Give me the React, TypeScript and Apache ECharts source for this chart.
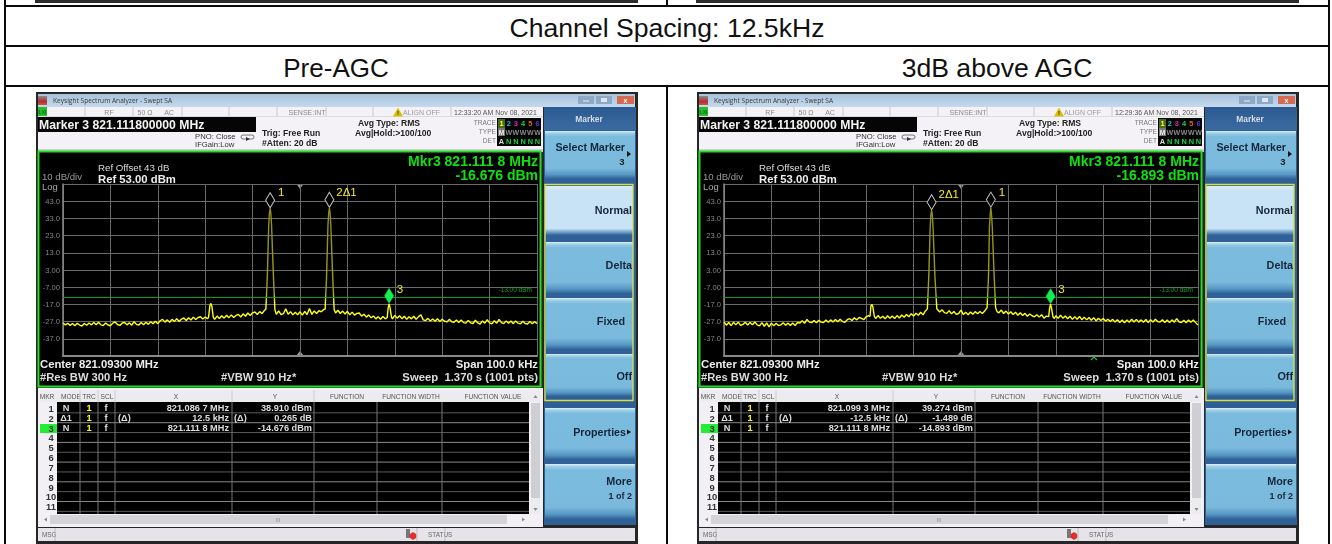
import React, { useEffect, useRef } from "react";
import * as echarts from "echarts";

// ---------- data ----------
const yTickLabels = ["", "-37.0", "-27.0", "-17.0", "-7.00", "3.00", "13.0", "23.0", "33.0", "43.0", ""];
const bottomDbm = -47;
const displayLineDbm = -13;

const preAgcTrace: [number, number][] = [
[0,-27.8],[0.5,-28.9],[1,-28],[1.5,-29.2],[2,-28.1],[2.5,-29.4],[3,-28],[3.5,-29],[4,-29.6],[4.5,-28.1],[5,-29.1],[5.5,-27.8],[6,-28.9],[6.5,-27.5],[7,-28.8],[7.5,-27.4],[8,-28.9],[8.5,-29.3],[9,-27.8],[9.5,-29],
[10,-29.4],[10.5,-27.9],[11,-27.2],[11.5,-28.7],[12,-29.2],[12.5,-27.8],[13,-27.5],[13.5,-28.9],[14,-27.7],[14.5,-29.1],[15,-27.1],[15.5,-28.6],[16,-29],[16.5,-27.5],[17,-28.8],[17.5,-27.4],[18,-28.6],[18.5,-27.1],[19,-28.3],[19.5,-26.8],
[20,-28.2],[20.5,-26.5],[21,-25.7],[21.5,-27.3],[22,-26],[22.5,-27.4],[23,-25.7],[23.5,-27],[24,-25.3],[24.5,-26.9],[25,-25.5],[25.5,-24.9],[26,-26.4],[26.5,-24.8],[27,-26.1],[27.5,-24.4],[28,-25.8],[28.5,-24.6],[29,-24.2],[29.5,-25.5],[30,-24.3],[30.5,-25.3],
[30.7,-24.5],[31,-17.6],[31.2,-16.4],[31.4,-18],[31.7,-24.4],[32,-25.7],[32.5,-23.8],[33,-25.2],[33.5,-23.6],[34,-25],[34.5,-23.3],[35,-24.7],[35.5,-23.1],[36,-24.6],[36.5,-23.4],[37,-22.8],[37.5,-24.3],[38,-22.5],[38.5,-23.9],[39,-22],[39.5,-23.4],[40,-21.9],[40.5,-21.4],[41,-22.9],[41.5,-21.2],[42,-22.3],[42.5,-20.5],
[42.8,-19.7],[43.1,-1],[43.4,29],[43.55,36],[43.7,38.9],[43.85,36],[44,29],[44.4,-1],[44.7,-20],[45,-22.8],[45.5,-20.8],[46,-23],[46.5,-22.4],[47,-19.6],[47.5,-22.7],[48,-21.2],[48.5,-23.1],[49,-21.6],[49.5,-23],[50,-21.3],[50.5,-23.2],[51,-21.1],[51.5,-22.9],[52,-19.4],[52.5,-22.8],[53,-20.8],[53.5,-22.3],[54,-20.7],[54.5,-21.3],[55,-19.9],
[55.3,-19.8],[55.6,-1],[55.9,29],[56.05,36],[56.2,39.17],[56.35,36],[56.5,29],[56.9,-1],[57.2,-20],[57.5,-22],[58,-20.4],[58.5,-22.3],[59,-20.9],[59.5,-22.6],[60,-21],[60.5,-23.1],[61,-21.5],[61.5,-23.2],[62,-22.2],[62.5,-22],[63,-23.8],[63.5,-22.7],[64,-24.4],[64.5,-23.1],[65,-24.8],[65.5,-23.7],[66,-25.4],[66.5,-24.2],[67,-25.6],[67.5,-24],[68,-25.4],
[68.4,-24.6],[68.6,-19],[68.8,-16.7],[69,-19],[69.3,-24.4],[69.5,-25.4],[70,-23.4],[70.5,-25],[71,-23.6],[71.5,-25.3],[72,-23.9],[72.5,-25.7],[73,-24.2],[73.5,-25.4],[74,-23.9],[74.5,-25.6],[75,-24.1],[75.5,-23],[76,-26],[76.5,-26.4],[77,-25.1],[77.5,-26.7],[78,-25.5],[78.5,-26.8],[79,-25.4],[79.5,-26.9],
[80,-25.6],[80.5,-26.8],[81,-27.2],[81.5,-25.7],[82,-27.1],[82.5,-27.4],[83,-26],[83.5,-27.5],[84,-26.1],[84.5,-27.6],[85,-27.9],[85.5,-26.3],[86,-27.7],[86.5,-28.1],[87,-26.2],[87.5,-27.8],[88,-28.4],[88.5,-26.6],[89,-27.9],[89.5,-25.9],
[90,-27.7],[90.5,-28.3],[91,-26.5],[91.5,-27.9],[92,-25.7],[92.5,-27.6],[93,-28.2],[93.5,-26.6],[94,-28],[94.5,-26.7],[95,-28.2],[95.5,-26.6],[96,-27.9],[96.5,-28.3],[97,-26.8],[97.5,-28.1],[98,-28.4],[98.5,-27],[99,-28.3],[99.5,-27.1],[100,-28.2],
];

const aboveAgcTrace: [number, number][] = [
[0,-27.2],[0.5,-29.1],[1,-27.5],[1.5,-29.3],[2,-27.4],[2.5,-28.9],[3,-27.3],[3.5,-29.2],[4,-28.6],[4.5,-27.4],[5,-29],[5.5,-27.5],[6,-28.8],[6.5,-27.2],[7,-28.9],[7.5,-29.5],[8,-27.6],[8.5,-29.7],[9,-27.8],[9.5,-30],
[10,-27.9],[10.5,-29.4],[11,-28],[11.5,-29.3],[12,-28.9],[12.5,-27.7],[13,-29.1],[13.5,-27.9],[14,-29.2],[14.5,-27.8],[15,-29.3],[15.5,-27.5],[16,-27.8],[16.5,-26.5],[17,-28],[17.5,-25.7],[18,-27.3],[18.5,-27.6],[19,-26.3],[19.5,-27.7],
[20,-26.2],[20.5,-27.3],[21,-27.6],[21.5,-26.1],[22,-27.4],[22.5,-26],[23,-27.2],[23.5,-25.8],[24,-27.1],[24.5,-25.7],[25,-27],[25.5,-27.4],[26,-25.9],[26.5,-25.3],[27,-26.4],[27.5,-24.8],[28,-26],[28.5,-24.6],[29,-25.1],[29.5,-25.8],[30,-24.2],[30.5,-23.5],
[30.8,-24],[31,-17.9],[31.2,-16.9],[31.4,-18.3],[31.7,-23.8],[32,-25.2],[32.5,-23.5],[33,-25.1],[33.5,-23.9],[34,-25.4],[34.5,-23.6],[35,-25.1],[35.5,-23.8],[36,-25.2],[36.5,-23.5],[37,-24.9],[37.5,-23.2],[38,-24.5],[38.5,-22.9],[39,-24.2],[39.5,-22.4],[40,-23.7],[40.5,-22.1],[41,-23.3],[41.5,-21.6],[42,-23.1],[42.5,-20.8],
[42.9,-19.6],[43.2,-1],[43.5,28],[43.65,35],[43.8,37.78],[43.95,35],[44.1,28],[44.5,-1],[44.9,-19.5],[45,-19.6],[45.5,-21.4],[46,-20.1],[46.5,-21.8],[47,-22.2],[47.5,-20.6],[48,-22.5],[48.5,-21.1],[49,-22.8],[49.5,-22.3],[50,-20.3],[50.5,-22.9],[51,-21.6],[51.5,-23],[52,-21.4],[52.5,-22.7],[53,-21.2],[53.5,-22.4],[54,-21.1],[54.5,-22.3],[55,-20.9],
[55.5,-18.9],[55.8,-1],[56,28],[56.15,35],[56.3,39.27],[56.45,35],[56.6,28],[57,-1],[57.3,-19],[57.6,-21.2],[58,-21.9],[58.5,-20.3],[59,-22.3],[59.5,-20.9],[60,-22.6],[60.5,-21.3],[61,-22.9],[61.5,-21.6],[62,-23.3],[62.5,-21.9],[63,-23.4],[63.5,-22.2],[64,-23.9],[64.5,-22.6],[65,-23.6],[65.5,-24.2],[66,-23],[66.5,-24.4],[67,-23],[67.5,-25],[68,-23.8],
[68.5,-24.1],[68.7,-19],[68.9,-16.9],[69.1,-19.2],[69.4,-24.2],[69.7,-25.2],[70,-23.6],[70.5,-25.1],[71,-23.2],[71.5,-25],[72,-23.7],[72.5,-25.3],[73,-23.9],[73.5,-25.7],[74,-24.1],[74.5,-25.6],[75,-24],[75.5,-25.9],[76,-24.4],[76.5,-26],[77,-24.6],[77.5,-26.2],[78,-24.7],[78.5,-26.5],[79,-25],[79.5,-26.4],
[80,-25.2],[80.5,-26.7],[81,-25.6],[81.5,-27],[82,-25.7],[82.5,-27.3],[83,-25.9],[83.5,-27.5],[84,-26.1],[84.5,-27.7],[85,-26],[85.5,-27.4],[86,-25.6],[86.5,-27.2],[87,-25.7],[87.5,-27.3],[88,-26],[88.5,-27.4],[89,-25.8],[89.5,-27.6],
[90,-25.9],[90.5,-27.3],[91,-25.6],[91.5,-27],[92,-27.3],[92.5,-25.9],[93,-27.5],[93.5,-26.1],[94,-27.6],[94.5,-26],[95,-27.3],[95.5,-25.3],[96,-27.1],[96.5,-27.6],[97,-26.2],[97.5,-27.7],[98,-26.1],[98.5,-27.4],[99,-26],[99.5,-27.6],[100,-29],
];

const preAgcMarkers = [
  { name: "1", khz: 43.7, dbm: 38.91, active: false },
  { name: "2Δ1", khz: 56.2, dbm: 39.175, active: false },
  { name: "3", khz: 68.8, dbm: -16.676, active: true },
];
const aboveAgcMarkers = [
  { name: "2Δ1", khz: 43.8, dbm: 37.785, active: false },
  { name: "1", khz: 56.3, dbm: 39.274, active: false },
  { name: "3", khz: 68.9, dbm: -16.893, active: true },
];

const preAgcRows = [
  ["N", "1", "f", "", "821.086 7 MHz", "", "38.910 dBm"],
  ["Δ1", "1", "f", "(Δ)", "12.5 kHz", "(Δ)", "0.265 dB"],
  ["N", "1", "f", "", "821.111 8 MHz", "", "-14.676 dBm"],
];
const aboveAgcRows = [
  ["N", "1", "f", "", "821.099 3 MHz", "", "39.274 dBm"],
  ["Δ1", "1", "f", "(Δ)", "-12.5 kHz", "(Δ)", "-1.489 dB"],
  ["N", "1", "f", "", "821.111 8 MHz", "", "-14.893 dBm"],
];
const markerNumbers = ["1", "2", "3", "4", "5", "6", "7", "8", "9", "10", "11"];
const tableHeads = [
  ["MKR", 47], ["MODE", 71], ["TRC", 89], ["SCL", 107], ["X", 176], ["Y", 275],
  ["FUNCTION", 347], ["FUNCTION WIDTH", 411], ["FUNCTION VALUE", 493],
] as [string, number][];
const softKeyLabels = ["Delta", "Fixed", "Off"];
const traceDigits = [["1", "#ffff20"], ["2", "#10c8c8"], ["3", "#e020c0"], ["4", "#20d040"], ["5", "#e06020"], ["6", "#6030e0"]];

const SANS = "'Liberation Sans', Arial, sans-serif";

// ---------- one analyzer screenshot, drawn behind the chart ----------
function paneChrome(dx: number, time: string, mkrDbm: string, rows: string[][]) {
  const els: any[] = [];
  const rect = (x: number, y: number, w: number, h: number, fill: any, extra: any = {}) =>
    els.push({ type: "rect", z: -1, shape: { x: x + dx, y, width: w, height: h }, style: { fill, ...extra }, silent: true });
  const line = (x1: number, y1: number, x2: number, y2: number, stroke: string, lineWidth = 1) =>
    els.push({ type: "line", z: -1, shape: { x1: x1 + dx, y1, x2: x2 + dx, y2 }, style: { stroke, lineWidth }, silent: true });
  const text = (x: number, y: number, t: string, size: number, fill: string, bold = false, align = "left", family = SANS) =>
    els.push({
      type: "text", z: -1, x: x + dx, y, silent: true,
      style: { text: t, fill, fontSize: size, fontFamily: family, fontWeight: bold ? "bold" : "normal", align, verticalAlign: "middle" },
    });
  const poly = (pts: number[][], fill: string) =>
    els.push({ type: "polygon", z: -1, shape: { points: pts.map(([a, b]) => [a + dx, b]) }, style: { fill }, silent: true });
  const grad = (stops: [number, string][]) =>
    new echarts.graphic.LinearGradient(0, 0, 0, 1, stops.map(([offset, color]) => ({ offset, color })));

  // outer frame
  rect(36, 92, 602, 452, "#262626");
  // title bar
  rect(38, 94, 597, 13, grad([[0, "#a8c3dd"], [1, "#c4d9ec"]]));
  rect(38, 96, 9, 9, grad([[0, "#8a8a8a"], [0.6, "#b03030"], [1, "#d05050"]]));
  text(53, 100.5, "Keysight Spectrum Analyzer - Swept SA", 6.6, "#3a3a3a", false, "left", "'Open Sans', sans-serif");
  rect(578, 96, 16, 8, "#8ea9c6");
  rect(596, 96, 16, 8, "#8ea9c6");
  rect(617, 96, 17, 8, "#d56a50");
  line(583, 101, 589, 101, "#eef");
  rect(601, 98, 6, 4, "#dfe8f2");
  text(625.5, 100, "x", 7, "#fff", true, "center");
  // status row + header area
  rect(38, 107, 505, 42, "#f5f2f7");
  rect(38, 107, 9, 9, "#25c025");
  text(42.5, 111.5, "LXI", 5, "#063", true, "center");
  for (const sx of [85, 133, 182, 229, 277, 326, 373, 451]) line(sx, 107, sx, 116, "#c8c8c8");
  line(38, 116.5, 543, 116.5, "#dcdcdc");
  text(109, 112, "RF", 7, "#888", false, "center");
  text(145, 112, "50 Ω", 7, "#888", false, "center");
  text(169, 112, "AC", 7, "#888", false, "center");
  text(307, 112, "SENSE:INT", 7, "#888", false, "center");
  poly([[393, 116.5], [398, 107.5], [403, 116.5]], "#d8c000");
  text(398, 113, "!", 6, "#222", true, "center");
  text(403, 112, "ALIGN OFF", 7, "#999");
  text(454, 112, time, 7, "#555", false, "left");
  // marker readout
  rect(38, 117, 218, 15, "#050505");
  text(39, 124.5, "Marker 3 821.111800000 MHz", 12.2, "#f4f4f4", true);
  text(195, 136, "PNO: Close", 7.7, "#333", false);
  text(195, 144.5, "IFGain:Low", 7.7, "#333", false);
  els.push({ type: "rect", z: -1, shape: { x: 241 + dx, y: 135, width: 13, height: 4, r: 2 }, style: { fill: "none", stroke: "#555", lineWidth: 0.8 }, silent: true });
  poly([[246, 137], [250, 139], [246, 141]], "#333");
  text(262, 132.5, "Trig: Free Run", 8.6, "#222", true);
  text(262, 143, "#Atten: 20 dB", 8.6, "#222", true);
  text(358, 122.5, "Avg Type: RMS", 8.6, "#222", true);
  text(355, 132.5, "Avg|Hold:>100/100", 8.6, "#222", true);
  text(496, 122, "TRACE", 6.6, "#777", false, "right");
  text(496, 131.5, "TYPE", 6.6, "#777", false, "right");
  text(496, 140.5, "DET", 6.6, "#777", false, "right");
  rect(497, 118, 44, 28, "#050505");
  rect(498, 119, 7, 9, "#4a6a20");
  rect(498, 128, 7, 8, "#777");
  traceDigits.forEach(([d, c], i) => {
    text(501.5 + i * 7.2, 123, d, 7.4, c, true, "center");
    text(501.5 + i * 7.2, 132, i === 0 ? "M" : "W", i === 0 ? 6.6 : 7, i === 0 ? "#eee" : "#888", true, "center");
    text(501.5 + i * 7.2, 141, i === 0 ? "A" : "N", 7.4, i === 0 ? "#ddd" : "#20d040", true, "center");
  });
  // graticule panel
  rect(38, 149, 505, 3, "#d0d0d0");
  rect(38.5, 151.5, 502, 235, "#000", { stroke: "#22dd22", lineWidth: 2 });
  text(538, 161, "Mkr3 821.111 8 MHz", 14, "#10e010", true, "right");
  text(538, 175, mkrDbm, 14, "#10e010", true, "right");
  text(98, 167.5, "Ref Offset 43 dB", 9.7, "#ddd");
  text(98, 178.5, "Ref 53.00 dBm", 11.3, "#eee", true);
  text(42, 176.5, "10 dB/div", 9.6, "#999");
  text(42, 186, "Log", 9.4, "#aaa");
  text(40, 364, "Center 821.09300 MHz", 11.3, "#eee", true);
  text(40, 377, "#Res BW 300 Hz", 11.2, "#ddd", true);
  text(221, 377, "#VBW 910 Hz*", 11.2, "#ddd", true);
  text(538, 364, "Span 100.0 kHz", 11.3, "#eee", true, "right");
  text(538, 377, "Sweep  1.370 s (1001 pts)", 11.3, "#ddd", true, "right");
  // marker table
  rect(38, 388, 505, 139, "#f2f0f5");
  rect(40, 390, 500, 12, "#ecebef");
  tableHeads.forEach(([h, x]) => text(x, 396.5, h, 6.6, "#555", false, "center"));
  for (const sx of [80, 98, 115, 232, 314]) line(sx, 390, sx, 402, "#ccc");
  rect(57, 402, 472, 112, "#000");
  for (let i = 1; i <= 11; i++) line(57, 402 + i * 9.85 + 1, 529, 402 + i * 9.85 + 1, i % 2 ? "#5a5a5a" : "#888");
  for (const sx of [80, 98, 115, 232, 314, 377, 442]) line(sx, 402, sx, 514, "#777");
  rect(40, 424, 17, 9, "#22ee33");
  markerNumbers.forEach((n, i) => text(51, 408.3 + i * 9.85, n, 9.4, "#333", true, "center"));
  rows.forEach((r, i) => {
    const y = 408.3 + i * 9.9;
    text(66, y, r[0], 9.2, "#ddd", true, "center");
    text(89, y, r[1], 9.2, "#ffff20", true, "center");
    text(106, y, r[2], 9.2, "#ddd", true, "center");
    if (r[3]) text(118, y, r[3], 9.2, "#ddd", true);
    text(229, y, r[4], 9.2, "#ddd", true, "right");
    if (r[5]) text(234, y, r[5], 9.2, "#ddd", true);
    text(312, y, r[6], 9.2, "#ddd", true, "right");
  });
  // scroll bars
  rect(531, 403, 9, 95, "#cfcfd3");
  rect(531, 498, 9, 16, "#ececef");
  poly([[535.5, 395], [533.5, 398], [537.5, 398]], "#888");
  poly([[535.5, 511], [533.5, 508], [537.5, 508]], "#888");
  rect(50, 515, 457, 9, "#d4d4d8");
  text(278, 519.5, "III", 5, "#888", false, "center");
  poly([[44, 519.5], [47, 517.5], [47, 521.5]], "#888");
  poly([[525, 519.5], [522, 517.5], [522, 521.5]], "#888");
  // softkeys
  rect(544, 107, 92, 418, "#2e5f96");
  rect(544, 107, 92, 23, grad([[0, "#2c5a92"], [1, "#3a6ba0"]]));
  text(589, 118.5, "Marker", 8.4, "#d8dde5", true, "center");
  const keyFill = grad([[0, "#dff0f9"], [0.04, "#a0d0e8"], [0.1, "#7bbcde"], [0.72, "#7ab9dc"], [0.84, "#5596c2"], [0.92, "#2f6198"], [1, "#2f6097"]]);
  const normalFill = grad([[0, "#d8edf9"], [0.1, "#c8e3f5"], [0.76, "#c8e3f5"], [0.8, "#8cb8d8"], [0.88, "#2f6198"], [1, "#2f6097"]]);
  rect(545, 131, 90, 52, keyFill);
  text(625, 147, "Select Marker", 10.7, "#16263a", true, "right");
  poly([[627, 151], [631, 154], [627, 157]], "#111");
  text(622, 161.5, "3", 9.5, "#222", true, "center");
  rect(545, 186, 88, 56, normalFill);
  text(632, 210, "Normal", 10.8, "#16263a", true, "right");
  rect(546, 242, 87, 56, keyFill);
  text(632, 265, softKeyLabels[0], 10.8, "#16263a", true, "right");
  rect(546, 298, 87, 56, keyFill);
  text(625, 321, softKeyLabels[1], 10.8, "#16263a", true, "right");
  text(632, 321, "▷", 7, "#8aa", false, "right");
  rect(546, 354, 87, 46, keyFill);
  text(632, 376, softKeyLabels[2], 10.8, "#16263a", true, "right");
  rect(545, 184.5, 88, 216, "none", { stroke: "#d8e040", lineWidth: 1.4 });
  rect(545, 408, 90, 56, keyFill);
  text(626, 432, "Properties", 10.7, "#16263a", true, "right");
  poly([[627, 429.5], [631, 432], [627, 434.5]], "#111");
  rect(545, 464, 90, 60, keyFill);
  text(632, 480.5, "More", 10.8, "#16263a", true, "right");
  text(632, 496, "1 of 2", 9, "#16263a", true, "right");
  // status bar
  rect(38, 528, 597, 13, "#e6e4e9");
  text(42, 534.5, "MSG", 6.4, "#666");
  line(55, 528, 55, 541, "#bbb");
  rect(406, 529, 4, 9, "#777");
  els.push({ type: "circle", z: -1, shape: { cx: 413 + dx, cy: 536, r: 3.6 }, style: { fill: "#e03030" }, silent: true });
  text(428, 534.5, "STATUS", 6.4, "#666");
  line(417, 528, 417, 541, "#bbb");
  line(445, 528, 445, 541, "#bbb");
  // centre reference triangles of the graticule
  poly([[296.5, 184], [303.5, 184], [300, 189]], "#999");
  poly([[296, 356], [304, 356], [300, 351]], "#999");
  return els;
}

function traceSeries(name: string, index: number, trace: [number, number][], markers: typeof preAgcMarkers) {
  const toAxis = (dbm: number) => dbm - bottomDbm;
  const labelOffsets: Record<string, number[]> = { "1": [0, -8], "2Δ1": [-1, -8], "3": [0, -7] };
  return {
    name,
    type: "line",
    xAxisIndex: index,
    yAxisIndex: index,
    showSymbol: false,
    silent: true,
    z: 3,
    data: trace.map(([k, d]) => [k, toAxis(d)]),
    lineStyle: {
      width: 1.4,
      color: new echarts.graphic.LinearGradient(0, 0, 0, 1, [
        { offset: 0, color: "#8c8c20" },
        { offset: 0.72, color: "#a0a020" },
        { offset: 0.8, color: "#ffff10" },
        { offset: 1, color: "#ffff10" },
      ]),
    },
    markLine: {
      silent: true,
      symbol: "none",
      animation: false,
      lineStyle: { color: "#0c9c18", width: 1, type: "solid" },
      label: {
        show: true,
        position: "insideEndTop",
        formatter: "-13.00 dBm",
        color: "#10a020",
        fontSize: 6.5,
        fontFamily: SANS,
      },
      data: [{ yAxis: toAxis(displayLineDbm) }],
    },
    markPoint: {
      silent: true,
      animation: false,
      data: markers.map((m) => ({
        name: m.name,
        coord: [m.khz, toAxis(m.dbm)],
        symbol: "diamond",
        symbolSize: [9, 15],
        symbolOffset: [0, -8],
        itemStyle: m.active
          ? { color: "#10f050", borderColor: "#10f050", borderWidth: 0.5 }
          : { color: "#000", borderColor: "#c8c8c8", borderWidth: 1 },
        label: {
          show: true,
          formatter: m.name,
          position: "right",
          offset: labelOffsets[m.name],
          distance: 3,
          color: "#f4ec20",
          fontSize: 11.5,
          fontFamily: SANS,
        },
      })),
    },
  };
}

function axisFor(dx: number) {
  const grid = { left: 63 + dx, top: 184, width: 474, height: 172, show: false };
  const lineColor = "#6a6a6a";
  const xAxis = {
    type: "value", min: 0, max: 100, interval: 10,
    axisTick: { show: false }, axisLabel: { show: false },
    axisLine: { show: true, onZero: false, lineStyle: { color: "#8a8a8a", width: 2 } },
    splitLine: { show: true, lineStyle: { color: lineColor, width: 1 } },
  };
  const yAxis = {
    type: "value", min: 0, max: 100, interval: 10,
    axisTick: { show: false },
    axisLine: { show: true, onZero: false, lineStyle: { color: "#8a8a8a", width: 1.5 } },
    splitLine: { show: true, lineStyle: { color: lineColor, width: 1 } },
    axisLabel: {
      color: "#858585", fontSize: 7.6, margin: 3, fontFamily: SANS,
      formatter: (v: number) => yTickLabels[Math.round(v / 10)],
    },
  };
  return { grid, xAxis, yAxis };
}

const LEFT_DX = 0;
const RIGHT_DX = 661;

function screensOption() {
  const a = axisFor(LEFT_DX);
  const b = axisFor(RIGHT_DX);
  const upArrow = {
    type: "polyline", z: 5, silent: true,
    shape: { points: [[1091, 360], [1094, 357], [1097, 360]] },
    style: { stroke: "#18c040", fill: "none", lineWidth: 1.2 },
  };
  return {
    animation: false,
    backgroundColor: "transparent",
    grid: [a.grid, b.grid],
    xAxis: [{ ...a.xAxis, gridIndex: 0 }, { ...b.xAxis, gridIndex: 1 }],
    yAxis: [{ ...a.yAxis, gridIndex: 0 }, { ...b.yAxis, gridIndex: 1 }],
    series: [
      traceSeries("Pre-AGC trace", 0, preAgcTrace, preAgcMarkers),
      traceSeries("3dB above AGC trace", 1, aboveAgcTrace, aboveAgcMarkers),
    ],
    graphic: {
      elements: [
        ...paneChrome(LEFT_DX, "12:33:20 AM Nov 08, 2021", "-16.676 dBm", preAgcRows),
        ...paneChrome(RIGHT_DX, "12:29:36 AM Nov 08, 2021", "-16.893 dBm", aboveAgcRows),
        upArrow,
      ],
    },
  };
}

function tableOption() {
  const line = (x1: number, y1: number, x2: number, y2: number) => ({
    type: "line", silent: true, shape: { x1, y1, x2, y2 }, style: { stroke: "#0a0a0a", lineWidth: 2 },
  });
  const cell = (x: number, y: number, t: string, size = 26.6) => ({
    type: "text", silent: true, x, y,
    style: { text: t, fill: "#111", fontSize: size, fontFamily: SANS, align: "center", verticalAlign: "middle" },
  });
  const bar = (x: number, width: number) => ({
    type: "rect", silent: true, shape: { x, y: 0, width, height: 3 }, style: { fill: "#2c2c2c" },
  });
  return {
    animation: false,
    backgroundColor: "#ffffff",
    graphic: {
      elements: [
        bar(35, 603), bar(696, 603),
        line(5, 0, 5, 544), line(1329, 0, 1329, 544),
        line(667, 0, 667, 6), line(667, 86, 667, 544),
        line(4, 6, 1330, 6), line(4, 46, 1330, 46), line(4, 86, 1330, 86),
        cell(667, 27.5, "Channel Spacing: 12.5kHz"),
        cell(336, 67.5, "Pre-AGC", 26),
        cell(997, 67.5, "3dB above AGC"),
      ],
    },
  };
}

const layer: React.CSSProperties = { position: "absolute", left: 0, top: 0, width: 1332, height: 544 };

export default function App() {
  const tableRef = useRef<HTMLDivElement>(null);
  const screensRef = useRef<HTMLDivElement>(null);
  useEffect(() => {
    const table = echarts.init(tableRef.current!, undefined, { renderer: "svg" });
    const screens = echarts.init(screensRef.current!, undefined, { renderer: "svg" });
    table.setOption(tableOption());
    screens.setOption(screensOption());
    return () => {
      table.dispose();
      screens.dispose();
    };
  }, []);
  return (
    <>
      <div ref={tableRef} style={layer} />
      <div ref={screensRef} style={{ ...layer, filter: "blur(0.5px)" }} />
    </>
  );
}
